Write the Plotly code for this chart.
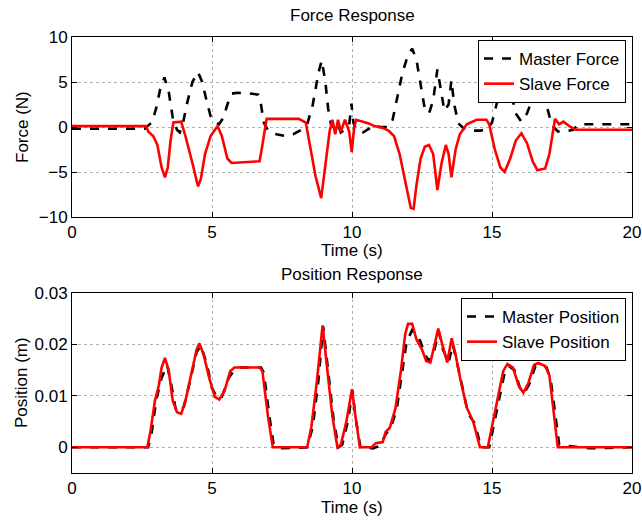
import plotly.graph_objects as go

# ---- Force Response data (time s, force N) ----
master_force_t = [0, 2.6, 2.7, 2.85, 3.0, 3.15, 3.3, 3.45, 3.6, 3.75, 3.85, 3.95, 4.1, 4.3, 4.5, 4.65, 4.8, 4.95,
                  5.1, 5.25, 5.4, 5.55, 5.7, 5.9, 6.3, 6.65, 6.75, 6.85, 7.0, 7.3, 7.6, 7.9, 8.2, 8.4, 8.6, 8.8,
                  8.92, 9.05, 9.15, 9.25, 9.4, 9.5, 9.6, 9.75, 9.9, 9.98, 10.05, 10.15, 10.4, 10.6, 10.8, 11.0,
                  11.3, 11.45, 11.6, 11.8, 12.0, 12.15, 12.3, 12.45, 12.6, 12.75, 12.9, 13.05, 13.15, 13.3,
                  13.45, 13.55, 13.65, 13.8, 14.0, 14.3, 14.6, 14.85, 15.0, 15.2, 15.4, 15.52, 15.7, 15.85,
                  16.05, 16.25, 16.45, 16.7, 16.9, 17.05, 17.2, 17.35, 17.6, 17.9, 18.1, 20]
master_force = [-0.2, -0.2, 0.1, 0.5, 2.0, 4.2, 5.5, 4.0, 1.0, -0.3, -0.6, 0.2, 2.5, 5.0, 6.1, 5.0, 3.0, 1.2,
                0.5, 0.3, 1.0, 2.5, 3.7, 3.8, 3.75, 3.6, 2.5, 0.5, -0.4, -0.8, -1.0, -0.8, -0.3, 0.3, 2.5, 6.0,
                7.4, 5.0, 2.0, 0.3, -0.2, 0.3, -0.6, -0.3, 0.2, 2.6, 0.5, -0.3, -0.6, -0.2, 0.2, 0.0,
                0.0, 0.8, 3.0, 6.0, 8.0, 8.7, 7.5, 4.5, 2.0, 1.5, 3.0, 6.4, 4.5, 1.8,
                2.5, 5.2, 2.5, 0.4, -0.2, -0.4, -0.4, -0.2, 0.5, 3.0, 5.0, 5.6, 3.5, 1.5,
                0.6, 1.5, 3.2, 4.4, 3.0, 1.2, 0.0, -0.5, -0.5, -0.3, 0.3, 0.3]

slave_force_t = [0, 2.65, 2.72, 2.9, 3.05, 3.2, 3.32, 3.42, 3.52, 3.62, 3.9, 4.05, 4.3, 4.5, 4.6, 4.75, 4.95,
                 5.2, 5.35, 5.55, 5.7, 6.3, 6.7, 6.8, 6.95, 7.5, 8.1, 8.35, 8.5, 8.7, 8.9, 9.05, 9.2, 9.3,
                 9.4, 9.5, 9.6, 9.75, 9.9, 9.99, 10.08, 10.15, 10.4, 10.6, 10.8, 11.1, 11.3, 11.5, 11.7,
                 11.9, 12.1, 12.2, 12.3, 12.45, 12.6, 12.75, 12.9, 13.05, 13.2, 13.35, 13.45, 13.55, 13.7,
                 13.85, 14.1, 14.45, 14.8, 14.9, 15.1, 15.3, 15.45, 15.65, 15.85, 16.05, 16.25, 16.45,
                 16.62, 16.9, 17.05, 17.25, 17.4, 17.55, 17.8, 18.0, 20]
slave_force = [0.1, 0.1, -0.5, -1.0, -2.0, -4.5, -5.6, -4.5, -1.5, 0.5, 0.6, -1.0, -4.0, -6.6, -5.8, -3.0, -1.0,
               0.1, -1.0, -3.5, -4.0, -3.9, -3.8, -2.0, 0.9, 0.9, 0.9, 0.5, -2.0, -5.5, -7.9, -4.0, -0.5, 0.8,
               -0.8, 0.8, -0.5, 0.8, -0.5, -2.8, 0.0, 0.8, 0.6, 0.4, 0.1, -0.1, -0.4, -1.0, -3.0,
               -6.0, -9.0, -9.1, -6.5, -3.5, -2.2, -2.0, -3.0, -7.0, -4.0, -2.0, -3.0, -5.6, -2.5,
               -0.8, 0.3, 0.8, 0.8, 0.3, -2.5, -4.5, -5.0, -3.5, -1.5, -0.7, -1.8, -3.8,
               -4.8, -4.6, -3.0, 0.9, 0.3, 0.6, 0.0, -0.3, -0.3]

# ---- Position Response data (time s, position m) ----
master_pos_t = [0, 2.72, 2.85, 3.0, 3.2, 3.4, 3.55, 3.7, 3.85, 4.0, 4.2, 4.45, 4.6, 4.8, 5.0, 5.2, 5.35, 5.6,
                5.8, 6.0, 6.75, 6.85, 7.05, 7.2, 7.5, 8.4, 8.6, 8.8, 8.97, 9.15, 9.35, 9.52, 9.65, 9.85,
                10.02, 10.12, 10.3, 10.75, 11.0, 11.2, 11.4, 11.6, 11.8, 11.95, 12.15, 12.3, 12.45, 12.6,
                12.75, 12.9, 13.1, 13.25, 13.45, 13.6, 13.75, 13.95, 14.15, 14.4, 14.6, 14.9, 15.05, 15.25,
                15.45, 15.6, 15.8, 16.0, 16.15, 16.35, 16.55, 16.7, 16.95, 17.1, 17.4, 17.6, 18.5, 20]
master_pos = [0, 0, 0.003, 0.009, 0.0135, 0.016, 0.012, 0.0075, 0.0068, 0.008, 0.0125, 0.0185, 0.0198, 0.0165,
              0.0115, 0.0095, 0.0098, 0.0135, 0.015, 0.0155, 0.0155, 0.0145, 0.006, 0.0005, -0.0002, 0.0,
              0.004, 0.013, 0.0235, 0.015, 0.005, 0.0, 0.0005, 0.005, 0.011, 0.006, 0.0, -0.0002, 0.0003,
              0.0025, 0.004, 0.0075, 0.015, 0.0205, 0.0228, 0.022, 0.0205, 0.018, 0.0168, 0.018, 0.0225,
              0.019, 0.0165, 0.020, 0.0165, 0.0115, 0.0065, 0.0045, 0.0, 0.0, 0.004, 0.0095, 0.0145,
              0.0158, 0.015, 0.0115, 0.0105, 0.0125, 0.0158, 0.016, 0.0155, 0.013, 0.0005, 0.0003,
              -0.0002, 0.0]

slave_pos_t = [0, 2.69, 2.8, 2.96, 3.1, 3.2, 3.32, 3.45, 3.6, 3.75, 3.9, 4.05, 4.25, 4.45, 4.55, 4.7, 4.9, 5.1,
               5.26, 5.45, 5.65, 5.8, 6.7, 6.8, 7.0, 7.17, 8.4, 8.55, 8.75, 8.95, 9.1, 9.3, 9.48, 9.6, 9.8,
               10.0, 10.1, 10.28, 10.7, 10.85, 11.1, 11.2, 11.35, 11.55, 11.75, 11.9, 12.0, 12.15, 12.3,
               12.5, 12.65, 12.8, 12.95, 13.08, 13.2, 13.4, 13.56, 13.7, 13.86, 14.1, 14.33, 14.57, 14.85,
               15.0, 15.2, 15.4, 15.55, 15.75, 15.95, 16.12, 16.3, 16.5, 16.65, 16.9, 17.05, 17.35, 20]
slave_pos = [0, 0, 0.003, 0.009, 0.012, 0.0155, 0.0174, 0.015, 0.009, 0.0068, 0.0065, 0.009, 0.014, 0.019,
             0.0202, 0.018, 0.0135, 0.0098, 0.0093, 0.011, 0.0148, 0.0155, 0.0155, 0.0148, 0.006, 0.0, 0.0,
             0.004, 0.013, 0.0237, 0.016, 0.006, 0.0, 0.0005, 0.005, 0.0113, 0.007, 0.0, 0.0, 0.0008,
             0.001, 0.003, 0.0038, 0.0075, 0.015, 0.022, 0.024, 0.024, 0.021, 0.019, 0.0168, 0.0165,
             0.02, 0.0231, 0.0205, 0.0165, 0.0212, 0.018, 0.0135, 0.0077, 0.005, 0.0, 0.0, 0.004, 0.01,
             0.0148, 0.0162, 0.0155, 0.012, 0.0106, 0.0125, 0.016, 0.0164, 0.0158, 0.014, 0.0, 0.0]

x_ticks = [0, 5, 10, 15, 20]
force_ticks = [-10, -5, 0, 5, 10]
pos_ticks = [0, 0.01, 0.02, 0.03]
pos_tick_text = ["0", "0.01", "0.02", "0.03"]

FONT = "Liberation Sans, Arial, Helvetica, sans-serif"
FS = 17

fig = go.Figure()
fig.add_trace(go.Scatter(x=master_force_t, y=master_force, mode="lines", name="Master Force",
                         line=dict(color="black", width=2.6, dash="dash"), xaxis="x", yaxis="y", legend="legend"))
fig.add_trace(go.Scatter(x=slave_force_t, y=slave_force, mode="lines", name="Slave Force",
                         line=dict(color="#ff0000", width=2.6), xaxis="x", yaxis="y", legend="legend"))
fig.add_trace(go.Scatter(x=master_pos_t, y=master_pos, mode="lines", name="Master Position",
                         line=dict(color="black", width=2.6, dash="dash"), xaxis="x2", yaxis="y2", legend="legend2"))
fig.add_trace(go.Scatter(x=slave_pos_t, y=slave_pos, mode="lines", name="Slave Position",
                         line=dict(color="#ff0000", width=2.6), xaxis="x2", yaxis="y2", legend="legend2"))

axis_common = dict(showline=True, linecolor="black", linewidth=1, mirror="ticks", ticks="inside",
                   ticklen=5, tickcolor="black", showgrid=True, gridcolor="#b0b0b0", griddash="dot",
                   gridwidth=1, zeroline=False, automargin=False,
                   tickfont=dict(family=FONT, size=FS, color="black"))

top_bottom = (473 - 217) / 436
pos_top = (473 - 293) / 436

fig.update_layout(
    width=642, height=520,
    margin=dict(l=72, r=10, t=37, b=47, autoexpand=False),
    paper_bgcolor="white", plot_bgcolor="white",
    font=dict(family=FONT, size=FS, color="black"),
    xaxis=dict(domain=[0, 1], anchor="y", range=[0, 20], tickvals=x_ticks, **axis_common),
    yaxis=dict(domain=[top_bottom, 1], anchor="x", range=[-10, 10], tickvals=force_ticks, **axis_common),
    xaxis2=dict(domain=[0, 1], anchor="y2", range=[0, 20], tickvals=x_ticks, **axis_common),
    yaxis2=dict(domain=[0, pos_top], anchor="x2", range=[-0.005, 0.03], tickvals=pos_ticks,
                ticktext=pos_tick_text, **axis_common),
    legend=dict(x=(626 - 72) / 560, y=(473 - 40) / 436, xanchor="right", yanchor="top",
                bgcolor="white", bordercolor="black", borderwidth=1,
                font=dict(family=FONT, size=FS), tracegroupgap=0, itemwidth=30),
    legend2=dict(x=(626 - 72) / 560, y=(473 - 298) / 436, xanchor="right", yanchor="top",
                 bgcolor="white", bordercolor="black", borderwidth=1,
                 font=dict(family=FONT, size=FS), tracegroupgap=0, itemwidth=30),
    showlegend=True,
)

ann = [
    dict(text="Force Response", x=0.5, y=(473 - 16) / 436),
    dict(text="Position Response", x=0.5, y=(473 - 274) / 436),
    dict(text="Time (s)", x=0.5, y=(473 - 250) / 436),
    dict(text="Time (s)", x=0.5, y=(473 - 507) / 436),
]
for a in ann:
    fig.add_annotation(text=a["text"], x=a["x"], y=a["y"], xref="paper", yref="paper",
                       xanchor="center", yanchor="middle", showarrow=False,
                       font=dict(family=FONT, size=FS, color="black"))
fig.add_annotation(text="Force (N)", x=(22 - 72) / 560, y=(473 - 127) / 436, xref="paper", yref="paper",
                   xanchor="center", yanchor="middle", textangle=-90, showarrow=False,
                   font=dict(family=FONT, size=FS, color="black"))
fig.add_annotation(text="Position (m)", x=(21 - 72) / 560, y=(473 - 383) / 436, xref="paper", yref="paper",
                   xanchor="center", yanchor="middle", textangle=-90, showarrow=False,
                   font=dict(family=FONT, size=FS, color="black"))

fig.write_html("out.html", config={"displayModeBar": False},
               post_script="document.body.style.margin='0';document.body.style.overflow='hidden';")
